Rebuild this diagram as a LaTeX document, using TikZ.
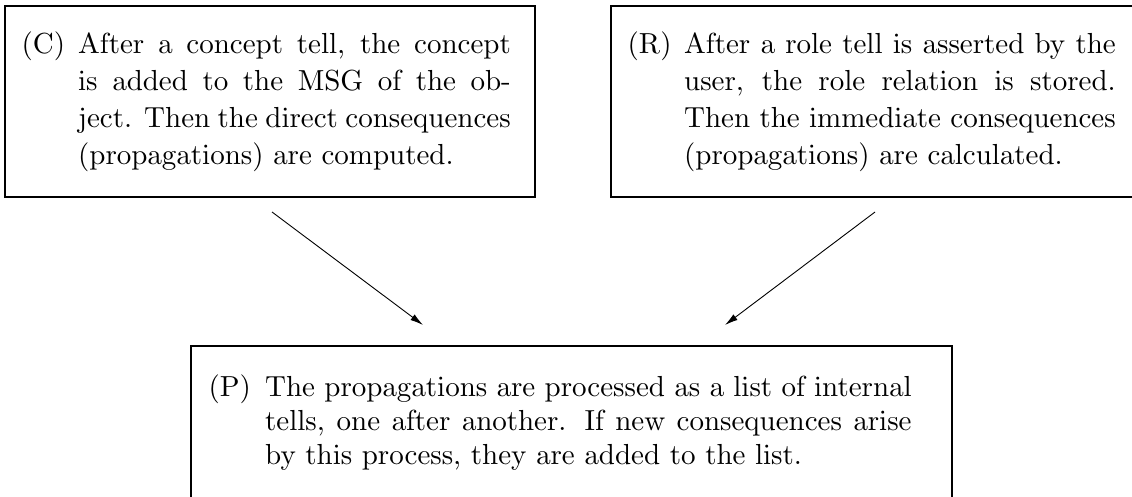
\documentclass[tikz,border=0pt]{standalone}
\usetikzlibrary{arrows.meta}
\font\reffont=cmr10 at 29pt
\newcommand{\jline}[1]{\makebox[\linewidth][s]{#1}}
\tikzset{
  boxframe/.style={draw, line width=1.8pt, inner sep=0pt},
  txt/.style={anchor=base west, inner sep=0pt, font=\reffont},
  para/.style={anchor=base west, inner sep=0pt, text width=#1, align=justify},
  arr/.style={line width=0.9pt, -{Latex[length=13pt,width=7pt]}}
}
\begin{document}
\begin{tikzpicture}[x=1pt,y=-1pt]
\useasboundingbox (0,0) rectangle (1132,497);
% frames
\node[boxframe, minimum width=530pt, minimum height=191pt] (C) at (270,101.5) {};
\node[boxframe, minimum width=530pt, minimum height=191pt] (R) at (876,101.5) {};
\node[boxframe, minimum width=761pt, minimum height=200pt] (P) at (571.5,446) {};
% texts of C
\node[txt] (Clab) at (21.5,54) {(C)};
\node[para=433pt, font={\reffont\baselineskip=37pt}] (Ctxt) at (78,54) {\jline{After a concept tell, the concept}\\
\jline{is added to the MSG of the ob-}\\
\jline{ject. Then the direct consequences}\\
(propagations) are computed.};
% texts of R
\node[txt] (Rlab) at (627.5,54) {(R)};
\node[para=432pt, font={\reffont\baselineskip=37pt}] (Rtxt) at (684,54) {\jline{After a role tell is asserted by the}\\
\jline{user, the role relation is stored.}\\
\jline{Then the immediate consequences}\\
(propagations) are calculated.};
% texts of P
\node[txt] (Plab) at (208.5,396) {(P)};
\node[para=647pt, font={\reffont\baselineskip=34pt}] (Ptxt) at (265,396) {\jline{The propagations are processed as a list of internal}\\
\jline{tells, one after another. If new consequences arise}\\
by this process, they are added to the list.};
% connectors
\coordinate (c1) at (272,212);
\coordinate (c2) at (423,325);
\coordinate (r1) at (875,212);
\coordinate (r2) at (725,325);
\draw[arr] (c1) -- (c2);
\draw[arr] (r1) -- (r2);
\end{tikzpicture}
\end{document}
